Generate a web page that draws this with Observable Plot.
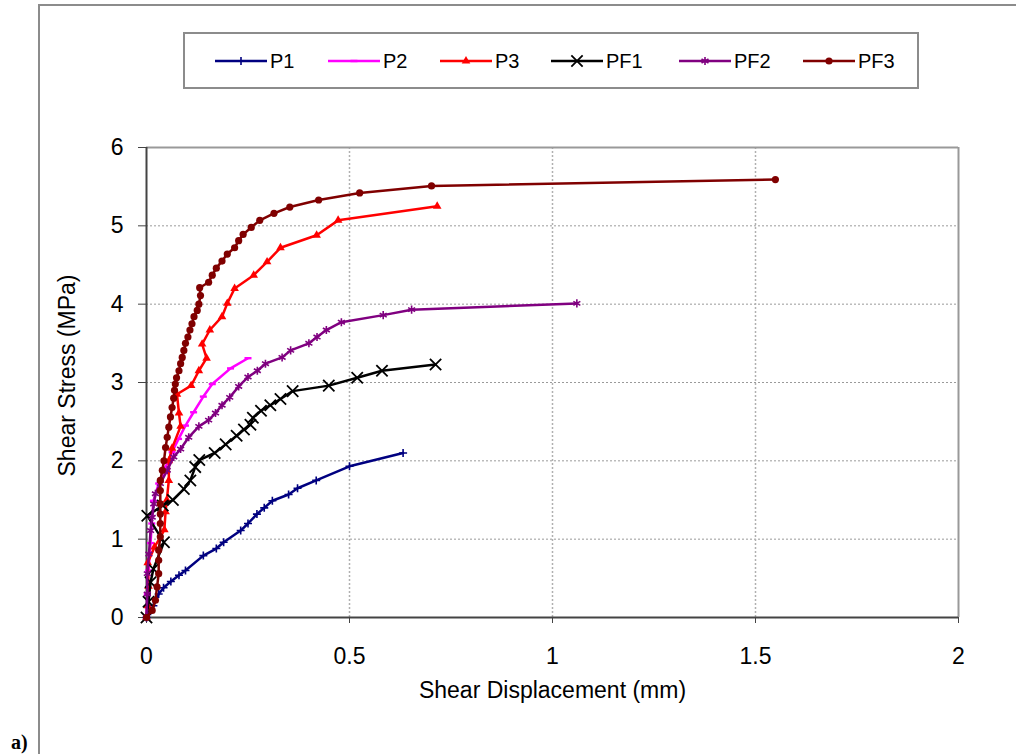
<!DOCTYPE html>
<html><head><meta charset="utf-8">
<script src="https://cdn.jsdelivr.net/npm/d3@7"></script>
<script src="https://cdn.jsdelivr.net/npm/@observablehq/plot@0.6"></script>
<style>
body{margin:0;background:#fff;width:1016px;height:754px;overflow:hidden;position:relative;font-family:"Liberation Sans",Arial,sans-serif;}
#frame{position:absolute;left:38px;top:4px;width:1100px;height:800px;border:2px solid #8c8c8c;box-sizing:border-box;}
#chart{position:absolute;left:0;top:0;}
#legend{position:absolute;left:183px;top:32px;width:736px;height:57px;border:2px solid #8c8c8c;box-sizing:border-box;background:#fff;}
#legend svg{position:absolute;left:0;top:0;}
#tag{position:absolute;left:11px;top:731px;font-family:"Liberation Serif","Times New Roman",serif;font-weight:bold;font-size:20px;}
</style></head><body>
<div id="frame"></div>
<div id="chart"></div>
<div id="legend"></div>
<div id="tag">a)</div>
<script>
// ---- data (shear displacement mm, shear stress MPa) ----
const seriesNames = ["P1","P2","P3","PF1","PF2","PF3"];
const xTicks = [0,0.5,1,1.5,2];
const yTicks = [0,1,2,3,4,5,6];
const P1 = [[0,0],[0.01,0.08],[0.017,0.15],[0.03,0.30],[0.042,0.38],[0.06,0.46],[0.08,0.54],[0.096,0.60],[0.14,0.79],[0.172,0.88],[0.19,0.96],[0.232,1.11],[0.25,1.20],[0.272,1.32],[0.29,1.40],[0.31,1.49],[0.35,1.57],[0.372,1.65],[0.418,1.75],[0.50,1.93],[0.632,2.10]];
const P2 = [[0,0],[0.002,0.3],[0.005,0.6],[0.01,0.95],[0.013,1.2],[0.017,1.49],[0.03,1.71],[0.047,1.92],[0.063,2.11],[0.079,2.28],[0.096,2.45],[0.116,2.62],[0.14,2.82],[0.162,2.98],[0.207,3.18],[0.25,3.31]];
const P3 = [[0,0],[0.003,0.15],[0.005,0.4],[0.003,0.7],[0.02,0.9],[0.044,1.12],[0.047,1.35],[0.05,1.5],[0.055,1.75],[0.055,2.0],[0.063,2.16],[0.084,2.44],[0.08,2.61],[0.075,2.85],[0.11,2.96],[0.129,3.15],[0.148,3.31],[0.137,3.49],[0.156,3.67],[0.186,3.84],[0.199,4.01],[0.217,4.20],[0.264,4.37],[0.297,4.54],[0.33,4.72],[0.419,4.88],[0.472,5.07],[0.716,5.25]];
const PF1 = [[0,0],[0.005,0.2],[0.01,0.45],[0.017,0.62],[0.043,0.96],[0.002,1.30],[0.04,1.43],[0.065,1.50],[0.092,1.64],[0.108,1.75],[0.12,1.92],[0.13,2.01],[0.168,2.10],[0.195,2.21],[0.222,2.32],[0.24,2.40],[0.256,2.46],[0.262,2.55],[0.282,2.64],[0.305,2.71],[0.33,2.79],[0.36,2.89],[0.449,2.96],[0.519,3.06],[0.58,3.15],[0.712,3.23]];
const PF2 = [[0,0],[0.002,0.3],[0.002,0.56],[0.006,0.81],[0.01,1.11],[0.014,1.28],[0.018,1.45],[0.022,1.58],[0.034,1.71],[0.051,1.88],[0.067,2.05],[0.084,2.15],[0.104,2.30],[0.129,2.44],[0.153,2.52],[0.17,2.61],[0.186,2.71],[0.205,2.81],[0.227,2.95],[0.25,3.07],[0.273,3.15],[0.293,3.24],[0.334,3.32],[0.355,3.41],[0.40,3.50],[0.42,3.58],[0.443,3.67],[0.48,3.77],[0.583,3.86],[0.653,3.93],[1.06,4.01]];
const PF3 = [[0,0],[0.014,0.09],[0.022,0.22],[0.026,0.39],[0.03,0.56],[0.03,0.73],[0.03,0.86],[0.034,1.03],[0.034,1.20],[0.034,1.32],[0.034,1.45],[0.034,1.62],[0.034,1.75],[0.039,1.88],[0.043,2.0],[0.047,2.17],[0.051,2.30],[0.055,2.43],[0.059,2.56],[0.063,2.68],[0.067,2.80],[0.069,2.90],[0.071,2.98],[0.074,3.06],[0.08,3.15],[0.084,3.24],[0.088,3.32],[0.092,3.41],[0.096,3.50],[0.102,3.58],[0.107,3.67],[0.112,3.75],[0.117,3.84],[0.125,3.92],[0.129,4.0],[0.133,4.11],[0.131,4.21],[0.153,4.28],[0.162,4.37],[0.172,4.46],[0.186,4.55],[0.199,4.64],[0.217,4.72],[0.227,4.81],[0.238,4.89],[0.258,4.98],[0.279,5.07],[0.314,5.16],[0.353,5.24],[0.424,5.33],[0.525,5.42],[0.702,5.51],[1.549,5.59]];
const seriesData = [P1,P2,P3,PF1,PF2,PF3];
const seriesColors = ["#000080","#ff00ff","#ff0000","#000000","#800080","#800000"];

// ---- marker styles ----
const dash = {draw(ctx, size){ ctx.rect(-3.5,-1.2,7,2.4); }};
const styles = [
  {symbol:"plus", r:2.7, filled:false, sw:1.6},
  {symbol:dash, r:3, filled:true, sw:0},
  {symbol:"triangle", r:3.2, filled:true, sw:0},
  {symbol:"times", r:5.2, filled:false, sw:1.8},
  {symbol:"asterisk", r:3.8, filled:false, sw:1.6},
  {symbol:"circle", r:3.6, filled:true, sw:0}
];

const FONT = '"Liberation Sans",Arial,sans-serif';
const marks = [
  Plot.gridY(yTicks.slice(1,-1), {stroke:"#9a9a9a", strokeOpacity:1, strokeWidth:1, strokeDasharray:"2,2"}),
  Plot.gridX(xTicks.slice(1,-1), {stroke:"#b0b0b0", strokeOpacity:1, strokeWidth:1.5, strokeDasharray:"2,2"}),
  Plot.ruleY([6], {stroke:"#999", strokeWidth:2}),
  Plot.ruleX([2], {stroke:"#999", strokeWidth:2}),
  Plot.axisY(yTicks, {tickSize:8, tickPadding:15, fontSize:23, stroke:"#444", tickFormat:d=>String(d)}),
  Plot.axisX(xTicks, {tickSize:6, tickPadding:24, fontSize:23, stroke:"#444", tickFormat:d=>String(d)}),
  Plot.ruleY([0], {stroke:"#444", strokeWidth:2}),
  Plot.ruleX([0], {stroke:"#444", strokeWidth:2}),
  Plot.text(["Shear Displacement (mm)"], {text:d=>d, frameAnchor:"bottom", textAnchor:"middle", lineAnchor:"middle", dy:73, fontSize:23}),
  Plot.text(["Shear Stress (MPa)"], {text:d=>d, frameAnchor:"left", textAnchor:"middle", lineAnchor:"middle", dx:-79, dy:-7, rotate:-90, fontSize:23})
];
seriesData.forEach((data, i) => {
  const c = seriesColors[i], s = styles[i];
  marks.push(Plot.line(data, {x:d=>d[0], y:d=>d[1], stroke:c, strokeWidth:2.5, curve:"linear"}));
  marks.push(Plot.dot(data, {x:d=>d[0], y:d=>d[1], symbol:s.symbol, r:s.r,
    fill: s.filled ? c : "none", stroke: s.filled ? "none" : c, strokeWidth:s.sw}));
});

const chart = Plot.plot({
  width:1016, height:754,
  marginLeft:146, marginRight:58, marginTop:147, marginBottom:137,
  x:{domain:[0,2]}, y:{domain:[0,6]},
  style:{fontFamily:FONT, fontSize:"23px", color:"#000", background:"transparent", overflow:"visible"},
  marks
});
document.getElementById("chart").appendChild(chart);

// ---- legend ----
const lg = d3.select("#legend").append("svg").attr("width",736).attr("height",57);
const itemX = [30, 143, 255, 366, 494, 618];
const symMap = {plus:d3.symbolPlus, triangle:d3.symbolTriangle, times:d3.symbolTimes, asterisk:d3.symbolAsterisk, circle:d3.symbolCircle};
seriesNames.forEach((name, i) => {
  const x0 = itemX[i], cy = 27, c = seriesColors[i], s = styles[i];
  const g = lg.append("g");
  g.append("line").attr("x1",x0).attr("x2",x0+52).attr("y1",cy).attr("y2",cy).attr("stroke",c).attr("stroke-width",2.5);
  const type = typeof s.symbol === "string" ? symMap[s.symbol] : s.symbol;
  g.append("path").attr("transform",`translate(${x0+26},${cy})`)
    .attr("d", d3.symbol(type, Math.PI*s.r*s.r)())
    .attr("fill", s.filled ? c : "none").attr("stroke", s.filled ? "none" : c).attr("stroke-width", s.sw);
  g.append("text").attr("x",x0+55).attr("y",cy).attr("dy","0.35em")
    .attr("font-size",20).attr("font-family",FONT).text(name);
});
</script>
</body></html>
